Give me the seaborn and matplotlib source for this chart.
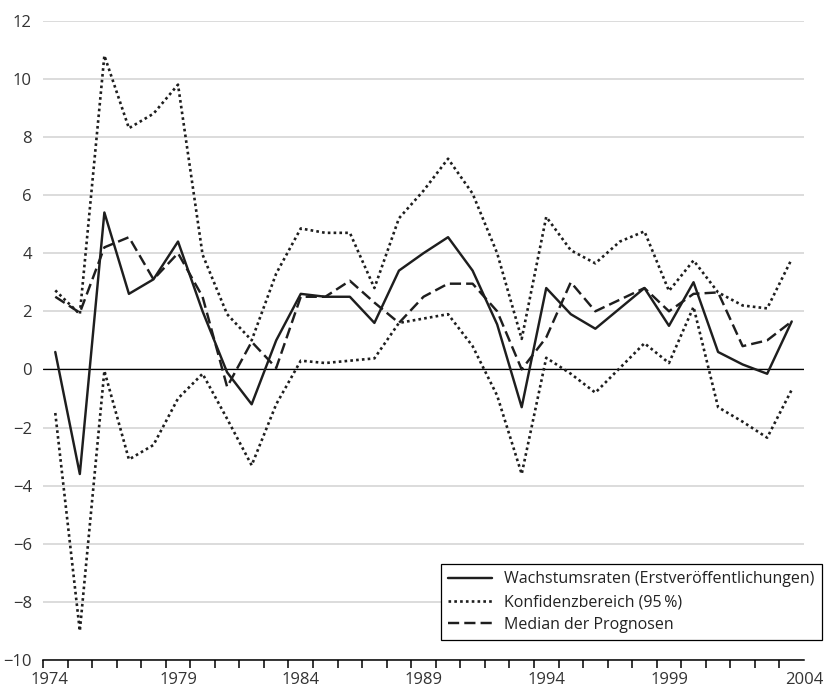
import matplotlib
matplotlib.use("Agg")
import matplotlib.pyplot as plt
import pandas as pd
import seaborn as sns
from matplotlib.lines import Line2D

# Jahre (Kategorien der x-Achse)
years = list(range(1974, 2005))

# Wachstumsraten des BIP, jeweils Erstveröffentlichung (in %)
growth = [0.6, -3.6, 5.4, 2.6, 3.1, 4.4, 2.0, -0.1, -1.2, 1.0,
          2.6, 2.5, 2.5, 1.6, 3.4, 4.0, 4.55, 3.4, 1.55, -1.3,
          2.8, 1.9, 1.4, 2.1, 2.8, 1.5, 3.0, 0.6, 0.17, -0.15, 1.65]

# Median der Prognosen (in %)
median = [2.5, 1.95, 4.2, 4.55, 3.1, 4.0, 2.5, -0.6, 0.95, 0.05,
          2.5, 2.5, 3.05, 2.3, 1.6, 2.5, 2.95, 2.95, 2.0, 0.0,
          1.1, 3.0, 2.0, 2.4, 2.8, 2.0, 2.6, 2.65, 0.8, 1.0, 1.65]

# Konfidenzbereich (95 %): Ober- und Untergrenze
ci_upper = [2.72, 1.9, 10.8, 8.3, 8.8, 9.8, 3.95, 1.9, 1.0, 3.3,
            4.85, 4.7, 4.7, 2.8, 5.2, 6.15, 7.25, 6.05, 4.0, 1.05,
            5.25, 4.1, 3.65, 4.4, 4.75, 2.7, 3.75, 2.65, 2.2, 2.1, 3.8]
ci_lower = [-1.5, -9.0, -0.05, -3.1, -2.6, -1.0, -0.15, -1.7, -3.3, -1.2,
            0.3, 0.22, 0.3, 0.38, 1.6, 1.75, 1.9, 0.8, -0.9, -3.6,
            0.4, -0.15, -0.8, 0.05, 0.9, 0.22, 2.15, -1.3, -1.8, -2.35, -0.7]

tick_years = [1974, 1979, 1984, 1989, 1994, 1999, 2004]
y_ticks = list(range(-10, 13, 2))

label_growth = "Wachstumsraten (Erstveröffentlichungen)"
label_ci = "Konfidenzbereich (95\u2009%)"
label_median = "Median der Prognosen"

df = pd.DataFrame({
    "Jahr": years,
    "growth": growth,
    "median": median,
    "ci_upper": ci_upper,
    "ci_lower": ci_lower,
})

sns.set_theme(style="white")
plt.rcParams["font.family"] = ["Open Sans", "DejaVu Sans"]

W, H = 824, 689
fig = plt.figure(figsize=(W / 100, H / 100), dpi=100)
left, right, top, bottom = 43, 804, 20.7, 660
ax = fig.add_axes([left / W, 1 - bottom / H, (right - left) / W, (bottom - top) / H])

ink = "#1e1e1e"
dotted = (0, (1, 1.2))
dashed = (0, (4.6, 2.1))
lw_main = 1.75
lw_dot = 1.9

sns.lineplot(data=df, x="Jahr", y="ci_upper", ax=ax, color=ink, lw=lw_dot,
             linestyle=dotted, zorder=3)
sns.lineplot(data=df, x="Jahr", y="ci_lower", ax=ax, color=ink, lw=lw_dot,
             linestyle=dotted, zorder=3)
sns.lineplot(data=df, x="Jahr", y="median", ax=ax, color=ink, lw=lw_main,
             linestyle=dashed, zorder=4)
sns.lineplot(data=df, x="Jahr", y="growth", ax=ax, color=ink, lw=lw_main,
             linestyle="-", zorder=5)

# Achsenbereiche: Jahre als Kategorien mit Trennstrichen dazwischen
ax.set_xlim(years[0] - 0.5, years[-1] + 0.5)
ax.set_ylim(-10, 12)
ax.set_xlabel("")
ax.set_ylabel("")

# Beschriftung der x-Achse; äußere Beschriftungen leicht nach innen gerückt
label_pos = list(tick_years)
label_pos[0] = tick_years[0] - 0.25
label_pos[-1] = tick_years[-1] + 0.5
ax.set_xticks(label_pos, labels=[str(y) for y in tick_years])
ax.set_xticks([y - 0.5 for y in years] + [years[-1] + 0.5], minor=True)
ax.tick_params(axis="x", which="major", length=0, pad=9,
               labelsize=12, labelcolor="#333333")
ax.tick_params(axis="x", which="minor", length=6, width=1.1,
               color="black", direction="out", bottom=True)

ax.set_yticks(y_ticks)
ax.set_yticklabels([f"{v}".replace("-", "\u2212") for v in y_ticks])
ax.tick_params(axis="y", length=0, pad=8, labelsize=12, labelcolor="#333333")
ax.yaxis.grid(True, color="#d2d2d2", lw=1.1)
ax.xaxis.grid(False)
ax.set_axisbelow(True)
ax.axhline(0, color="black", lw=0.9, zorder=2)

for side in ("left", "right", "top"):
    ax.spines[side].set_visible(False)
ax.spines["bottom"].set_color("black")
ax.spines["bottom"].set_linewidth(1.1)

handles = [
    Line2D([], [], color=ink, lw=lw_main, linestyle="-"),
    Line2D([], [], color=ink, lw=lw_dot, linestyle=dotted),
    Line2D([], [], color=ink, lw=lw_main, linestyle=dashed),
]
leg = fig.legend(handles, [label_growth, label_ci, label_median],
                 loc="lower right", bbox_to_anchor=(822 / W, 1 - 640 / H),
                 bbox_transform=fig.transFigure, fontsize=11.5,
                 frameon=True, fancybox=False, framealpha=1,
                 edgecolor="black", handlelength=2.75, handletextpad=0.8,
                 labelspacing=0.42, borderpad=0.45, borderaxespad=0)
leg.get_frame().set_linewidth(0.9)
for t in leg.get_texts():
    t.set_color("#222222")

fig.savefig("out.png", dpi=100)
